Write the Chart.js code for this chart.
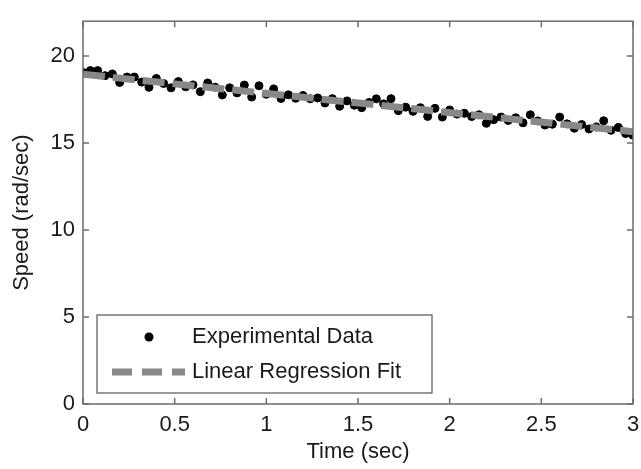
<!DOCTYPE html>
<html>
<head>
<meta charset="utf-8">
<script src="https://cdn.jsdelivr.net/npm/chart.js@4.4.1/dist/chart.umd.min.js"></script>
<style>
  body { margin: 0; background: #fff; }
  canvas { display: block; }
</style>
</head>
<body>
<canvas id="speedChart" width="641" height="469"></canvas>
<script>
// measured points (time in sec, speed in rad/sec)
const timeSec = [0, 0.04, 0.08, 0.12, 0.16, 0.2, 0.24, 0.28, 0.32, 0.36, 0.4, 0.44, 0.48, 0.52, 0.56, 0.6,
    0.64, 0.68, 0.72, 0.76, 0.8, 0.84, 0.88, 0.92, 0.96, 1.0, 1.04, 1.08, 1.12, 1.16, 1.2, 1.24, 1.28,
    1.32, 1.36, 1.4, 1.44, 1.48, 1.52, 1.56, 1.6, 1.64, 1.68, 1.72, 1.76, 1.8, 1.84, 1.88, 1.92, 1.96,
    2.0, 2.04, 2.08, 2.12, 2.16, 2.2, 2.24, 2.28, 2.32, 2.36, 2.4, 2.44, 2.48, 2.52, 2.56, 2.6, 2.64,
    2.68, 2.72, 2.76, 2.8, 2.84, 2.88, 2.92, 2.96, 3.0];
const speedData = [19.05, 19.16, 19.16, 18.87, 18.97, 18.48, 18.79, 18.79, 18.50, 18.20, 18.71, 18.42,
    18.17, 18.53, 18.23, 18.34, 17.95, 18.45, 18.21, 17.76, 18.17, 17.88, 18.33, 17.64, 18.29, 17.80,
    18.11, 17.56, 17.77, 17.57, 17.73, 17.54, 17.59, 17.30, 17.55, 17.11, 17.42, 17.17, 17.03, 17.33,
    17.54, 17.25, 17.55, 16.86, 17.06, 16.82, 17.03, 16.53, 16.99, 16.49, 16.90, 16.66, 16.71, 16.52,
    16.62, 16.13, 16.34, 16.49, 16.30, 16.45, 16.16, 16.62, 16.27, 16.03, 16.08, 16.49, 16.10, 15.85,
    16.06, 15.81, 15.92, 16.28, 15.73, 15.89, 15.54, 15.45];

// regression line end points
const fitTime = [0, 3];
const fitSpeed = [18.95, 15.65];

const legendLabels = ['Experimental Data', 'Linear Regression Fit'];

const FONT = '"Liberation Sans", Arial, sans-serif';
const FSIZE = 22;
const TXT = '#1a1a1a';
const AXIS = '#6b6b6b';

const scatterPts = timeSec.map((t, i) => ({ x: t, y: speedData[i] }));
const fitPts = fitTime.map((t, i) => ({ x: t, y: fitSpeed[i] }));

// box around plot + inward ticks on all four sides (matlab style)
const boxPlugin = {
    id: 'matlab_box',
    afterDraw: (chart) => {
        const c = chart.ctx;
        const { left, right, top, bottom } = chart.chartArea;
        const xs = chart.scales.x;
        const ys = chart.scales.y;
        const len = 6;
        c.save();
        c.strokeStyle = AXIS;
        c.lineWidth = 1.5;
        c.strokeRect(left, top, right - left, bottom - top);
        c.beginPath();
        xs.ticks.forEach(t => {
            const px = xs.getPixelForValue(t.value);
            c.moveTo(px, bottom); c.lineTo(px, bottom - len);
            c.moveTo(px, top); c.lineTo(px, top + len);
        });
        ys.ticks.forEach(t => {
            const py = ys.getPixelForValue(t.value);
            c.moveTo(left, py); c.lineTo(left + len, py);
            c.moveTo(right, py); c.lineTo(right - len, py);
        });
        c.stroke();

        // legend box, bottom left inside the axes
        const lx = 97, ly = 315, lw = 335, lh = 78;
        c.fillStyle = '#fff';
        c.fillRect(lx, ly, lw, lh);
        c.lineWidth = 1.2;
        c.strokeStyle = '#555';
        c.strokeRect(lx, ly, lw, lh);

        c.fillStyle = '#000';
        c.beginPath();
        c.arc(149, 337, 4.5, 0, Math.PI * 2);
        c.fill();

        c.strokeStyle = '#888';
        c.lineWidth = 7;
        c.setLineDash([20, 10]);
        c.beginPath();
        c.moveTo(112, 372); c.lineTo(185, 372);
        c.stroke();
        c.setLineDash([]);

        c.fillStyle = TXT;
        c.font = FSIZE + 'px ' + FONT;
        c.textBaseline = 'middle';
        c.textAlign = 'left';
        c.fillText(legendLabels[0], 192, 337);
        c.fillText(legendLabels[1], 192, 372);
        c.restore();
    }
};

const config = {
    type: 'scatter',
    data: {
        datasets: [{
            label: legendLabels[1],
            data: fitPts,
            showLine: true,
            borderColor: '#888',
            borderWidth: 7,
            borderDash: [22, 8],
            pointRadius: 0,
            order: 0
        }, {
            label: legendLabels[0],
            data: scatterPts,
            backgroundColor: '#000',
            borderColor: '#000',
            pointRadius: 4,
            order: 1
        }]
    },
    options: {
        responsive: false,
        animation: false,
        layout: {
            padding: { top: 10, right: 2, left: 0, bottom: 0 }
        },
        plugins: {
            legend: { display: false },
            tooltip: { enabled: false }
        },
        scales: {
            x: {
                type: 'linear',
                min: 0,
                max: 3,
                grid: { display: false, drawTicks: false },
                border: { display: false },
                ticks: {
                    stepSize: 0.5,
                    padding: 8,
                    color: TXT,
                    font: { family: FONT, size: FSIZE },
                    maxRotation: 0,
                    callback: (v) => String(v)
                },
                title: {
                    display: true,
                    text: 'Time (sec)',
                    color: TXT,
                    font: { family: FONT, size: FSIZE },
                    padding: { top: 1 }
                },
                afterFit: (s) => {
                    s.height = 65;
                    s.paddingRight = 8;
                    s.paddingLeft = 0;
                }
            },
            y: {
                min: 0,
                max: 22,
                grid: { display: false, drawTicks: false },
                border: { display: false },
                ticks: {
                    stepSize: 5,
                    includeBounds: false,
                    padding: 8,
                    color: TXT,
                    font: { family: FONT, size: FSIZE }
                },
                title: {
                    display: true,
                    text: 'Speed (rad/sec)',
                    color: TXT,
                    font: { family: FONT, size: FSIZE },
                    padding: { top: 9, bottom: 0 }
                },
                afterFit: (s) => { s.width = 83; }
            }
        }
    },
    plugins: [boxPlugin]
};

const speedChart = new Chart(document.getElementById('speedChart').getContext('2d'), config);
</script>
</body>
</html>
